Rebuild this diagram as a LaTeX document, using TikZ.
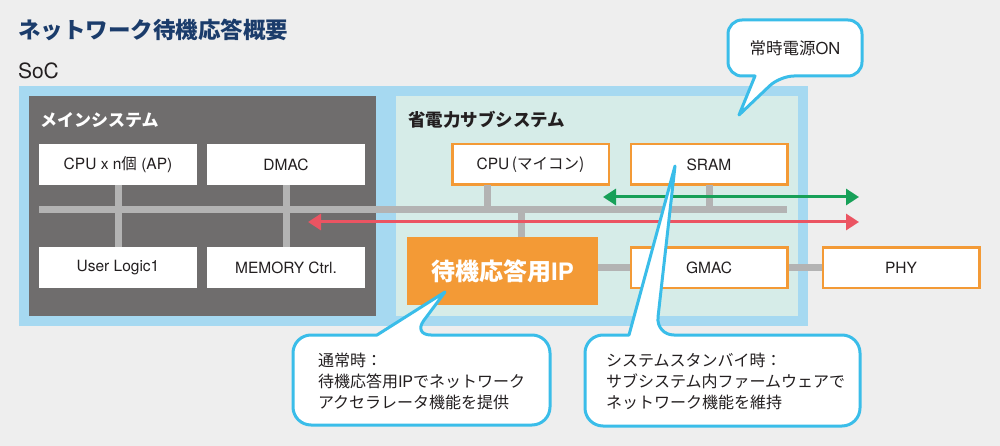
\documentclass[tikz,border=0pt]{standalone}
\usepackage{fontspec}
\setmainfont{TeX Gyre Heros}
\newfontfamily\jp{Noto Sans CJK JP}
\usetikzlibrary{arrows.meta,calc}
\definecolor{bgc}{HTML}{EEEEEE}
\definecolor{socblue}{HTML}{A6D9F1}
\definecolor{maingray}{HTML}{6F6D6D}
\definecolor{mint}{HTML}{D6ECE8}
\definecolor{busgray}{HTML}{B3B3B3}
\definecolor{orng}{HTML}{F39A36}
\definecolor{redc}{HTML}{EB5462}
\definecolor{greenc}{HTML}{17A058}
\definecolor{cyanc}{HTML}{3ABDE9}
\definecolor{navy}{HTML}{1B3C6B}
\definecolor{txt}{HTML}{231F20}
\begin{document}
\begin{tikzpicture}[x=1pt,y=-1pt,
  every node/.style={inner sep=0pt,outer sep=0pt},
  region/.style={anchor=north west,draw=none},
  whitebox/.style={fill=white,minimum width=158pt,minimum height=41pt,text=txt,font=\fontsize{15.5}{18}\selectfont},
  orangebox/.style={fill=white,draw=orng,line width=2.5pt,minimum width=156.5pt,minimum height=40.5pt,text=txt,font=\fontsize{15.5}{18}\selectfont},
  bus/.style={draw=busgray,line width=7pt},
  arr/.style={line width=3pt,{Triangle[length=13pt,width=16pt]}-{Triangle[length=13pt,width=16pt]}},
  callout/.style={draw=cyanc,fill=white,line width=3pt,line join=round},
  ctext/.style={anchor=west,align=left,text=txt,font=\fontsize{16}{21}\selectfont}
]
\useasboundingbox (0,0) rectangle (1000,446);
\fill[bgc] (0,0) rectangle (1000,446);

% titles
\node[anchor=west,text=navy,font=\jp\fontsize{22.5}{26}\selectfont\bfseries] (title) at (18,30) {ネットワーク待機応答概要};
\node[anchor=west,text=txt,font=\fontsize{21}{24}\selectfont] (soclabel) at (18,71) {SoC};

% regions
\node[region,fill=socblue,minimum width=789pt,minimum height=240pt] (soc) at (19,86) {};
\node[region,fill=maingray,minimum width=347pt,minimum height=220pt] (main) at (29,96) {};
\node[region,fill=mint,minimum width=402pt,minimum height=220pt] (sub) at (396,96) {};
\node[anchor=west,text=white,font=\jp\fontsize{17}{20}\selectfont\bfseries] (mainlabel) at (40,120) {メインシステム};
\node[anchor=west,text=txt,font=\jp\fontsize{17.5}{20}\selectfont\bfseries] (sublabel) at (408,120) {省電力サブシステム};

% main system boxes
\node[whitebox] (cpu) at (118,164.5) {CPU x n{\jp 個} (AP)};
\node[whitebox] (dmac) at (286,164.5) {DMAC};
\node[whitebox] (ul) at (118,267.5) {User Logic1};
\node[whitebox] (mem) at (286,267.5) {MEMORY Ctrl.};

% subsystem boxes
\node[orangebox] (mcu) at (530.5,164.5) {CPU\,{\jp (マイコン)}};
\node[orangebox] (sram) at (709,164.5) {SRAM};
\node[fill=orng,minimum width=191pt,minimum height=68pt,text=white,font=\fontsize{24}{28}\selectfont\bfseries] (ip) at (502.5,271) {{\jp 待機応答用}IP};

% bus
\coordinate (busL) at (39,209.5);
\coordinate (busR) at (787,209.5);
\draw[bus] (busL) -- (busR);
\draw[bus] (cpu.south) -- (ul.north);
\draw[bus] (dmac.south) -- (mem.north);
\draw[bus] ([xshift=-43pt]mcu.south) -- ([xshift=-43pt]mcu.south |- busL);
\draw[bus] (sram.south) -- (sram.south |- busL);
\draw[bus] ([xshift=18.5pt]ip.north) -- ([xshift=18.5pt]ip.north |- busL);
\node[orangebox] (gmac) at (709,267.5) {GMAC};
\node[orangebox] (phy) at (901,267.5) {PHY};
\draw[bus] (ip.east |- gmac.west) -- ([xshift=-1.25pt]gmac.west);
\draw[bus] ([xshift=1.25pt]gmac.east) -- ([xshift=-1.25pt]phy.west);

% arrows
\coordinate (gL) at (603,197);
\coordinate (gR) at (859,197);
\coordinate (rL) at (308,222);
\coordinate (rR) at (859,222);
\draw[arr,greenc] (gL) -- (gR);
\draw[arr,redc] (rL) -- (rR);

% callouts
\draw[callout,rounded corners=14pt] (795,20) -- (862,20) -- (862,76) -- (780,76) [sharp corners] -- (739,115) -- (755,76) [rounded corners=14pt] -- (728,76) -- (728,20) -- cycle;
\node[text=txt,font=\fontsize{16.5}{20}\selectfont] (c1) at (795,48) {{\jp 常時電源}ON};

\draw[callout,rounded corners=18pt] (330,425) -- (550,425) -- (550,335) -- (413,335) [sharp corners] -- (445,292) -- (377,335) [rounded corners=18pt] -- (293,335) -- (293,425) -- cycle;
\node[ctext] (c2) at (318,381) {{\jp 通常時：}\\{\jp 待機応答用}IP{\jp でネットワーク}\\{\jp アクセラレータ機能を提供}};

\draw[callout,rounded corners=18pt] (700,426) -- (860,426) -- (860,335) -- (656,335) [sharp corners] -- (675,166) -- (629,335) [rounded corners=18pt] -- (585,335) -- (585,426) -- cycle;
\node[ctext] (c3) at (606,381) {{\jp システムスタンバイ時：}\\{\jp サブシステム内ファームウェアで}\\{\jp ネットワーク機能を維持}};
\end{tikzpicture}
\end{document}
